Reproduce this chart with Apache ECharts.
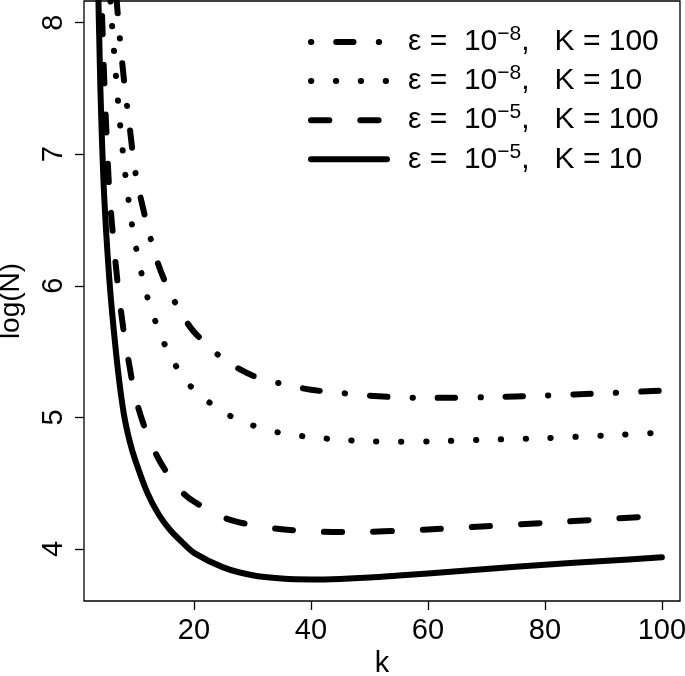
<!DOCTYPE html>
<html><head><meta charset="utf-8">
<script src="https://cdn.jsdelivr.net/npm/echarts@6/dist/echarts.min.js"></script>
<style>html,body{margin:0;padding:0;background:#fff}#c{width:685px;height:676px}</style>
</head><body><div id="c"></div>
<script>
// k values (x)
const kValues = [3, 3.5, 4, 4.5, 5, 5.5, 6, 7, 8, 9, 10, 12, 14, 16, 18, 20, 25, 30, 35, 40, 45, 50, 55, 60, 70, 80, 90, 100];
// eps = 1e-5, K = 10 (solid)
const solidE5K10 = [9.8, 8.55, 7.5, 6.83, 6.4, 6.07, 5.8, 5.36, 5.03, 4.82, 4.67, 4.43, 4.26, 4.14, 4.05, 3.97, 3.86, 3.80, 3.775, 3.768, 3.772, 3.782, 3.797, 3.813, 3.848, 3.88, 3.908, 3.936];
// eps = 1e-5, K = 100 (dashed)
const dashedE5K100 = [10.3, 9.3, 8.5, 7.76, 7.2, 6.74, 6.46, 6.0, 5.65, 5.385, 5.15, 4.87, 4.68, 4.54, 4.43, 4.36, 4.24, 4.18, 4.15, 4.133, 4.128, 4.13, 4.138, 4.148, 4.172, 4.198, 4.225, 4.253];
// eps = 1e-8, K = 10 (dotted)
const dottedE8K10 = [11.0, 10.3, 9.7, 9.2, 8.72, 8.33, 7.98, 7.41, 6.95, 6.59, 6.31, 5.92, 5.66, 5.46, 5.32, 5.21, 5.04, 4.94, 4.88, 4.85, 4.83, 4.818, 4.815, 4.817, 4.83, 4.842, 4.862, 4.884];
// eps = 1e-8, K = 100 (dot-dash)
const dotdashE8K100 = [12.0, 11.3, 10.6, 10.0, 9.5, 9.05, 8.65, 8.05, 7.58, 7.21, 6.86, 6.46, 6.15, 5.94, 5.78, 5.65, 5.445, 5.318, 5.255, 5.21, 5.186, 5.165, 5.152, 5.148, 5.153, 5.166, 5.183, 5.203];

const xTicks = [20, 40, 60, 80, 100];
const yTicks = [4, 5, 6, 7, 8];
const seriesNames = ['e8K100', 'e8K10', 'e5K100', 'e5K10'];
const legendExp = ['\u22128', '\u22128', '\u22125', '\u22125'];
const legendK = ['100', '10', '100', '10'];

const FONT = 'Liberation Sans, Arial, Helvetica, sans-serif';
const pair = (ys) => kValues.map((k, i) => [k, ys[i]]);

const chart = echarts.init(document.getElementById('c'), null, {renderer: 'canvas'});
const mk = (name, ys, dash) => ({
  name, type: 'line', data: pair(ys), symbol: 'none', smooth: 0.3,
  lineStyle: {color: '#000', width: 6, type: dash, cap: 'round', join: 'round'},
  itemStyle: {color: '#000'},
  emphasis: {disabled: true}, clip: true
});
chart.setOption({
  animation: false,
  backgroundColor: '#fff',
  grid: {left: 84, right: 5, top: 1, bottom: 75, show: true, borderColor: '#000', borderWidth: 1.3,
         backgroundColor: 'transparent', containLabel: false, outerBoundsMode: 'none'},
  xAxis: {
    type: 'value', min: 1.2, max: 103.1,
    name: 'k', nameLocation: 'middle', nameGap: 40,
    nameTextStyle: {fontSize: 29, fontFamily: FONT, color: '#000'},
    axisLine: {show: false},
    splitLine: {show: false},
    axisTick: {show: true, length: 9, customValues: xTicks, lineStyle: {color: '#000', width: 1.3}},
    axisLabel: {customValues: xTicks, fontSize: 29, fontFamily: FONT, color: '#000', margin: 15}
  },
  yAxis: {
    type: 'value', min: 3.604, max: 8.165,
    name: 'log(N)', nameLocation: 'middle', nameGap: 59,
    nameTextStyle: {fontSize: 28, fontFamily: FONT, color: '#000'},
    axisLine: {show: false},
    splitLine: {show: false},
    axisTick: {show: true, length: 9, customValues: yTicks, lineStyle: {color: '#000', width: 1.3}},
    axisLabel: {customValues: yTicks, rotate: 90, fontSize: 29, fontFamily: FONT, color: '#000', margin: 16}
  },
  legend: {
    orient: 'vertical', left: 308, top: 24, padding: 0, itemGap: 6.1,
    itemWidth: 76, itemHeight: 14,
    data: seriesNames,
    lineStyle: {width: 6},
    itemStyle: {color: 'rgba(0,0,0,0)', borderWidth: 0, opacity: 0},
    formatter: (name) => {
      const i = seriesNames.indexOf(name);
      return '{a|\u03b5 =  10}{s|' + legendExp[i] + '}{b|,   K = ' + legendK[i] + '}';
    },
    textStyle: {
      color: '#000', fontFamily: FONT,
      rich: {
        a: {fontSize: 30, lineHeight: 36, padding: [0, 0, 0, 16], fontFamily: FONT, color: '#000'},
        s: {fontSize: 21, lineHeight: 16, verticalAlign: 'top', fontFamily: FONT, color: '#000'},
        b: {fontSize: 30, lineHeight: 36, fontFamily: FONT, color: '#000'}
      }
    }
  },
  series: [
    mk('e8K100', dotdashE8K100, [0.3, 24.9, 17.3, 25.3]),
    mk('e8K10', dottedE8K10, [0.3, 24.6]),
    mk('e5K100', dashedE5K100, [18.3, 31]),
    mk('e5K10', solidE5K10, 'solid')
  ]
});
</script>
</body></html>
